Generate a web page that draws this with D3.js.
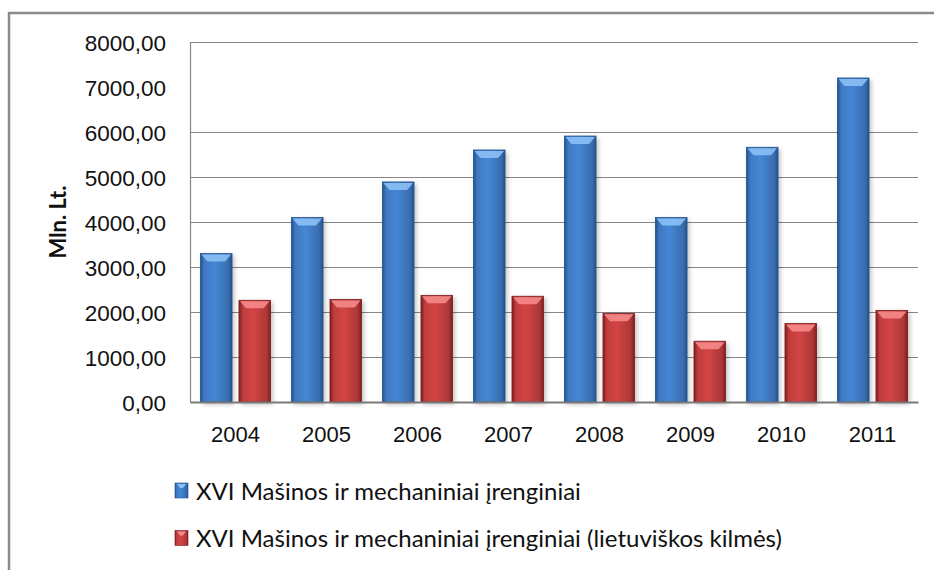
<!DOCTYPE html>
<html>
<head>
<meta charset="utf-8">
<script src="https://cdn.jsdelivr.net/npm/d3@7"></script>
<style>
  body { margin: 0; background: #fff; }
  svg { display: block; font-family: Lato, "Open Sans", sans-serif; }
</style>
</head>
<body>
<div id="display"></div>
<script>
// data
let years = ['2004', '2005', '2006', '2007', '2008', '2009', '2010', '2011'];
let seriesNames = [
    'XVI Mašinos ir mechaniniai įrenginiai',
    'XVI Mašinos ir mechaniniai įrenginiai (lietuviškos kilmės)'
];
let allMachines = [3300, 4100, 4890, 5600, 5910, 4100, 5660, 7200];
let lithuanianOrigin = [2260, 2280, 2370, 2350, 1970, 1350, 1745, 2035];
let yTicks = [0, 1000, 2000, 3000, 4000, 5000, 6000, 7000, 8000];

let W = 934, H = 570;
let margin = {top: 42, right: 16, bottom: 167, left: 190};

let svg = d3.select('#display')
    .append('svg')
        .attr('width', W)
        .attr('height', H);

let defs = svg.append('defs');
let palettes = [
    {edge: '#22528f', mid: '#4587d6', top: '#8cc0f5', id: 'blue'},
    {edge: '#7f1c1c', mid: '#d44444', top: '#f58a8a', id: 'red'}
];
palettes.forEach(p => {
    let g = defs.append('linearGradient').attr('id', 'grad-' + p.id)
        .attr('x1', '0%').attr('x2', '100%').attr('y1', '0%').attr('y2', '0%');
    g.append('stop').attr('offset', '0%').attr('stop-color', p.edge);
    g.append('stop').attr('offset', '12%').attr('stop-color', d3.color(p.mid).darker(0.3));
    g.append('stop').attr('offset', '45%').attr('stop-color', p.mid);
    g.append('stop').attr('offset', '88%').attr('stop-color', d3.color(p.mid).darker(0.6));
    g.append('stop').attr('offset', '100%').attr('stop-color', p.edge);
});
let blur = defs.append('filter').attr('id', 'shadow')
    .attr('x', '-30%').attr('y', '-10%').attr('width', '160%').attr('height', '120%');
blur.append('feGaussianBlur').attr('stdDeviation', 2.5);

// outer frame (runs off the right and bottom of the picture)
svg.append('rect')
    .attr('x', 9).attr('y', 13)
    .attr('width', 960).attr('height', 600)
    .attr('fill', 'none')
    .attr('stroke', '#8a8a8a')
    .attr('stroke-width', 2.5);

// scales
let x = d3.scaleBand()
    .domain(years)
    .range([margin.left, W - margin.right]);
let xSub = d3.scaleBand()
    .domain([0, 1])
    .range([0, x.bandwidth()])
    .paddingInner(0.18)
    .paddingOuter(0.27);
let y = d3.scaleLinear()
    .domain([0, 8000])
    .range([H - margin.bottom - 1, margin.top]);

// gridlines (7000 line is not visible in the picture)
svg.append('g')
    .selectAll('line')
    .data(yTicks.filter(d => d !== 0 && d !== 7000))
    .enter()
    .append('line')
        .attr('x1', margin.left)
        .attr('x2', W - margin.right)
        .attr('y1', d => Math.round(y(d)) + 0.5)
        .attr('y2', d => Math.round(y(d)) + 0.5)
        .attr('stroke', '#868686')
        .attr('stroke-width', 1.2);

// Y axis
let yAxis = svg.append('g')
    .attr('transform', 'translate(' + margin.left + ',0)')
    .call(d3.axisLeft(y).tickValues(yTicks).tickSize(0).tickPadding(24)
        .tickFormat(d => d3.format('.2f')(d).replace('.', ',')));
yAxis.select('.domain').attr('stroke', '#868686').attr('stroke-width', 1.2);
yAxis.selectAll('text')
    .attr('font-size', 22.5)
    .attr('fill', '#111')
    .attr('dy', '0.36em');

svg.append('text')
    .attr('transform', 'translate(66,' + (y(4000)) + ') rotate(-90)')
    .attr('text-anchor', 'middle')
    .attr('font-size', 22)
    .attr('font-weight', 'bold')
    .attr('fill', '#111')
    .text('Mln. Lt.');

// bars
let rows = years.map((yr, i) => ({year: yr, vals: [allMachines[i], lithuanianOrigin[i]]}));
let groups = svg.append('g')
    .selectAll('g')
    .data(rows)
    .enter()
    .append('g')
        .attr('transform', d => 'translate(' + x(d.year) + ',0)');

let bars = groups.selectAll('g')
    .data(d => d.vals.map((v, k) => ({k: k, v: v})))
    .enter()
    .append('g');

// soft shadow
bars.append('rect')
    .attr('x', d => xSub(d.k) + 2)
    .attr('y', d => y(d.v) + 2)
    .attr('width', xSub.bandwidth())
    .attr('height', d => y(0) - y(d.v))
    .attr('fill', '#000')
    .attr('opacity', 0.28)
    .attr('filter', 'url(#shadow)');

bars.append('rect')
    .attr('x', d => xSub(d.k))
    .attr('y', d => y(d.v))
    .attr('width', xSub.bandwidth())
    .attr('height', d => y(0) - y(d.v))
    .attr('fill', d => 'url(#grad-' + palettes[d.k].id + ')')
    .attr('stroke', d => palettes[d.k].edge)
    .attr('stroke-width', 0.8);

// bevel on top
bars.append('path')
    .attr('d', d => {
        let x0 = xSub(d.k), w = xSub.bandwidth(), t = y(d.v);
        return 'M' + (x0 + 1) + ',' + (t + 1) + 'L' + (x0 + w - 1) + ',' + (t + 1)
            + 'L' + (x0 + w - 7) + ',' + (t + 8) + 'L' + (x0 + 7) + ',' + (t + 8) + 'Z';
    })
    .attr('fill', d => palettes[d.k].top)
    .attr('opacity', 0.9);

// X axis
let xAxis = svg.append('g')
    .attr('transform', 'translate(0,' + y(0) + ')')
    .call(d3.axisBottom(x).tickSize(0).tickPadding(24));
xAxis.select('.domain').attr('stroke', '#7a7a7a').attr('stroke-width', 2);
xAxis.selectAll('text')
    .attr('font-size', 22)
    .attr('fill', '#111');

// legend
let legend = svg.append('g')
    .selectAll('g')
    .data(seriesNames)
    .enter()
    .append('g')
        .attr('transform', (d, i) => 'translate(175,' + (483 + i * 47.5) + ')');
legend.append('rect')
    .attr('width', 13).attr('height', 15)
    .attr('fill', (d, i) => 'url(#grad-' + palettes[i].id + ')')
    .attr('stroke', (d, i) => palettes[i].edge)
    .attr('stroke-width', 0.6);
legend.append('path')
    .attr('d', 'M2,1L11,1L8,5L5,5Z')
    .attr('fill', (d, i) => palettes[i].top);
legend.append('text')
    .attr('x', 21)
    .attr('y', 8)
    .attr('dy', '0.36em')
    .attr('font-size', 24)
    .attr('fill', '#111')
    .text(d => d);
</script>
</body>
</html>
